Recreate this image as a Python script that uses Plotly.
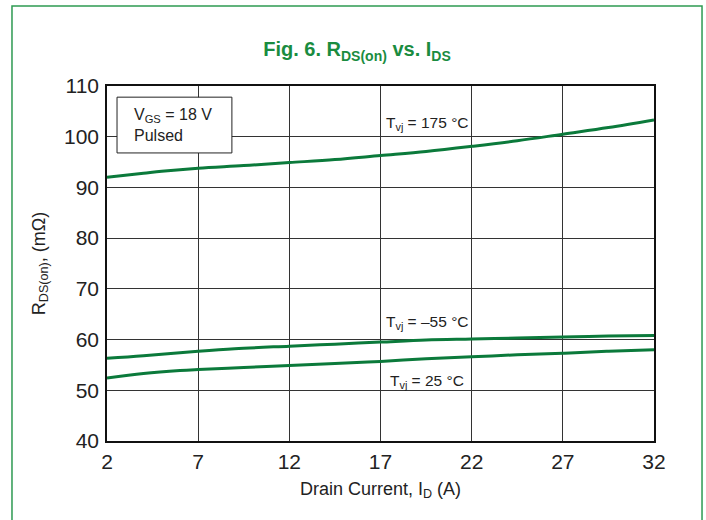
import plotly.graph_objects as go

# Data
x_175 = [2, 4, 5, 7, 9.5, 12, 14.5, 17, 19.5, 22, 24.5, 27, 29.5, 32]
y_175 = [92.0, 92.8, 93.2, 93.8, 94.3, 94.9, 95.5, 96.3, 97.1, 98.1, 99.2, 100.5, 101.8, 103.3]

x_m55 = [2, 4, 7, 9, 12, 14.5, 17, 19.5, 22, 24.5, 27, 29.5, 32]
y_m55 = [56.3, 56.8, 57.7, 58.2, 58.7, 59.1, 59.5, 59.9, 60.1, 60.3, 60.5, 60.7, 60.8]

x_25 = [2, 4, 6, 7, 9.5, 12, 14.5, 17, 19.5, 22, 24.5, 27, 29.5, 32]
y_25 = [52.4, 53.3, 53.9, 54.1, 54.5, 54.9, 55.3, 55.7, 56.2, 56.6, 57.0, 57.3, 57.7, 58.0]

x_ticks = [2, 7, 12, 17, 22, 27, 32]
y_ticks = [40, 50, 60, 70, 80, 90, 100, 110]

LINE = "#0b7a3b"
GREEN = "#1a8c3f"
REG = "Liberation Sans, Arial, sans-serif"

fig = go.Figure()
for xs, ys in [(x_175, y_175), (x_m55, y_m55), (x_25, y_25)]:
    fig.add_trace(go.Scatter(x=xs, y=ys, mode="lines", line=dict(color=LINE, width=3, shape="spline"),
                             showlegend=False, hoverinfo="skip"))

fig.update_layout(
    width=706, height=520,
    margin=dict(l=107, r=52, t=86, b=79),
    paper_bgcolor="white", plot_bgcolor="white",
    font=dict(family=REG, color="#222", size=18),
    title=dict(text="<b>Fig. 6. R<sub>DS(on)</sub> vs. I<sub>DS</sub></b>",
               x=357 / 706, xanchor="center", xref="container", y=0.905, yanchor="middle",
               font=dict(family=REG, size=20, color=GREEN)),
    xaxis=dict(range=[2, 32], tickvals=x_ticks, ticktext=[str(v) for v in x_ticks],
               showgrid=True, gridcolor="#333", gridwidth=1, zeroline=False,
               showline=True, linecolor="#111", linewidth=1.5, mirror=True,
               ticks="", ticklabelstandoff=1, tickfont=dict(family=REG, size=21, color="#222"),
               title=dict(text="Drain Current, I<sub>D</sub> (A)", font=dict(size=18), standoff=10)),
    yaxis=dict(range=[40, 110], tickvals=y_ticks, ticktext=[str(v) for v in y_ticks],
               showgrid=True, gridcolor="#333", gridwidth=1, zeroline=False,
               showline=True, linecolor="#111", linewidth=1.5, mirror=True,
               ticks="", ticklabelstandoff=2, tickfont=dict(family=REG, size=21, color="#222"),
               title=dict(text="R<sub>DS(on)</sub>, (mΩ)", font=dict(size=18), standoff=14)),
)

# Condition box
fig.add_shape(type="rect", xref="x", yref="y", x0=2.55, x1=8.85, y0=96.8, y1=107.8,
              line=dict(color="#222", width=1), fillcolor="white", layer="above")
fig.add_annotation(xref="x", yref="y", x=3.35, y=102.3, xanchor="left", yanchor="middle",
                   text="V<sub>GS</sub> = 18 V<br>Pulsed", showarrow=False, align="left",
                   font=dict(size=16, color="#222"))

# Curve labels
for txt, yy in [("T<sub>vj</sub> = 175 °C", 102.6), ("T<sub>vj</sub> = –55 °C", 63.3), ("T<sub>vj</sub> = 25 °C", 51.8)]:
    fig.add_annotation(xref="x", yref="y", x=19.55, y=yy, text=txt, showarrow=False,
                       font=dict(size=15.5, color="#222"))

# Green frame around the figure
fig.add_shape(type="rect", xref="paper", yref="paper", x0=-0.1737, x1=1.0878, y0=-0.3, y1=1.2254,
              line=dict(color="#2e9a52", width=1.5), fillcolor="rgba(0,0,0,0)", layer="below")

fig.write_html("out.html", config={"displayModeBar": False},
               post_script="document.body.style.margin='0px';")
